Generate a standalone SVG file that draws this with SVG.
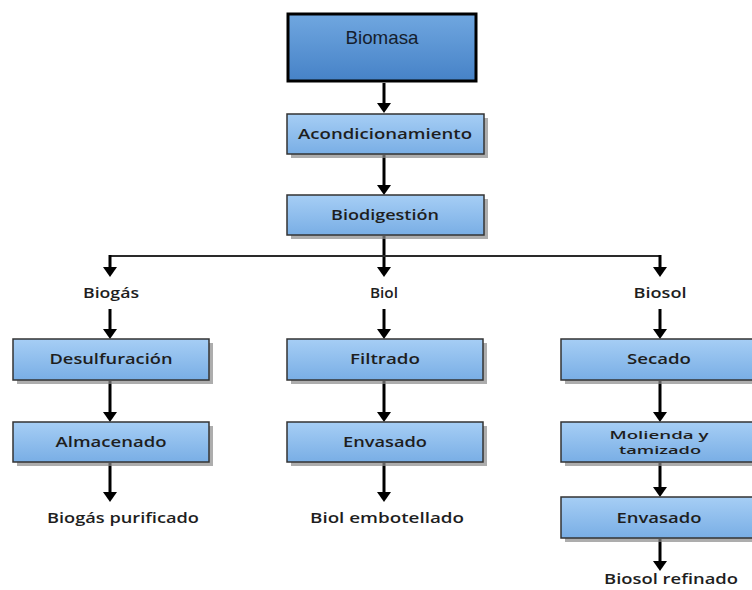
<svg xmlns="http://www.w3.org/2000/svg" width="752" height="590" viewBox="0 0 752 590">
<defs>
<linearGradient id="gBox" x1="0" y1="0" x2="0" y2="1">
<stop offset="0" stop-color="#a6cef5"/>
<stop offset="1" stop-color="#79aee5"/>
</linearGradient>
<linearGradient id="gTop" x1="0" y1="0" x2="0" y2="1">
<stop offset="0" stop-color="#70a7e0"/>
<stop offset="1" stop-color="#4682c7"/>
</linearGradient>
<marker id="ah" markerUnits="userSpaceOnUse" viewBox="0 0 10 14" refX="4" refY="7" markerWidth="10" markerHeight="14" orient="auto">
<path d="M0,0 L10,7 L0,14 z" fill="#000"/>
</marker>
</defs>
<style>
.box{fill:url(#gBox);stroke:#333;stroke-width:1.5}
.sh{fill:#8a8a8a;opacity:0.7}
.t{font-family:"Open Sans","DejaVu Sans",sans-serif;font-weight:600;font-size:13.5px;fill:#1e1e1e;text-anchor:middle}
.s{font-size:11.5px}
.c{fill:none;stroke:#000;stroke-width:3;marker-end:url(#ah)}
.h{fill:none;stroke:#2a2a2a;stroke-width:2}
</style>
<rect width="752" height="590" fill="#fff"/>

<g id="connectors">
<path class="c" d="M384,83 V107"/>
<path class="c" d="M384,155 V189"/>
<path class="c" d="M384,236 V271"/>
<path class="h" d="M110,256 H660"/>
<path class="c" d="M110,255 V271"/>
<path class="c" d="M660,255 V271"/>
<path class="c" d="M110,309 V333"/>
<path class="c" d="M384,309 V333"/>
<path class="c" d="M660,309 V333"/>
<path class="c" d="M110,381 V416"/>
<path class="c" d="M384,381 V416"/>
<path class="c" d="M660,381 V416"/>
<path class="c" d="M110,463 V496"/>
<path class="c" d="M384,463 V496"/>
<path class="c" d="M660,463 V491"/>
<path class="c" d="M660,539 V565"/>
</g>

<g id="biomasa">
<rect x="288" y="14" width="188" height="67" fill="url(#gTop)" stroke="#000" stroke-width="3"/>
<text x="382" y="44" font-family="Liberation Sans, Arial, sans-serif" font-size="19" fill="#15202e" text-anchor="middle" textLength="73" lengthAdjust="spacingAndGlyphs">Biomasa</text>
</g>

<g id="acondicionamiento">
<rect class="sh" x="291" y="118" width="197" height="40"/>
<rect class="box" x="287" y="114" width="197" height="40"/>
<text class="t" x="385" y="139" textLength="174" lengthAdjust="spacingAndGlyphs">Acondicionamiento</text>
</g>

<g id="biodigestion">
<rect class="sh" x="291" y="199" width="197" height="40"/>
<rect class="box" x="287" y="195" width="197" height="40"/>
<text class="t" x="385" y="220" textLength="108" lengthAdjust="spacingAndGlyphs">Biodigestión</text>
</g>

<g id="biogas">
<text class="t" x="111" y="298" textLength="56" lengthAdjust="spacingAndGlyphs">Biogás</text>
</g>
<g id="biol">
<text class="t" x="384" y="298" textLength="28" lengthAdjust="spacingAndGlyphs">Biol</text>
</g>
<g id="biosol">
<text class="t" x="660" y="298" textLength="53" lengthAdjust="spacingAndGlyphs">Biosol</text>
</g>

<g id="desulfuracion">
<rect class="sh" x="17" y="343" width="196" height="41"/>
<rect class="box" x="13" y="339" width="196" height="41"/>
<text class="t" x="111" y="364" textLength="123" lengthAdjust="spacingAndGlyphs">Desulfuración</text>
</g>

<g id="almacenado">
<rect class="sh" x="17" y="426" width="196" height="40"/>
<rect class="box" x="13" y="422" width="196" height="40"/>
<text class="t" x="111" y="447" textLength="111" lengthAdjust="spacingAndGlyphs">Almacenado</text>
</g>

<g id="biogas-purificado">
<text class="t" x="123" y="523" textLength="152" lengthAdjust="spacingAndGlyphs">Biogás purificado</text>
</g>

<g id="filtrado">
<rect class="sh" x="291" y="343" width="196" height="41"/>
<rect class="box" x="287" y="339" width="196" height="41"/>
<text class="t" x="385" y="364" textLength="70" lengthAdjust="spacingAndGlyphs">Filtrado</text>
</g>

<g id="envasado-biol">
<rect class="sh" x="291" y="426" width="196" height="40"/>
<rect class="box" x="287" y="422" width="196" height="40"/>
<text class="t" x="385" y="447" textLength="84" lengthAdjust="spacingAndGlyphs">Envasado</text>
</g>

<g id="biol-embotellado">
<text class="t" x="387" y="523" textLength="154" lengthAdjust="spacingAndGlyphs">Biol embotellado</text>
</g>

<g id="secado">
<rect class="sh" x="565" y="343" width="197" height="41"/>
<rect class="box" x="561" y="339" width="197" height="41"/>
<text class="t" x="659" y="364" textLength="64" lengthAdjust="spacingAndGlyphs">Secado</text>
</g>

<g id="molienda">
<rect class="sh" x="565" y="426" width="197" height="40"/>
<rect class="box" x="561" y="422" width="197" height="40"/>
<text class="t s" x="659" y="439" textLength="99" lengthAdjust="spacingAndGlyphs">Molienda y</text>
<text class="t s" x="660" y="454" textLength="82" lengthAdjust="spacingAndGlyphs">tamizado</text>
</g>

<g id="envasado-biosol">
<rect class="sh" x="565" y="501" width="197" height="41"/>
<rect class="box" x="561" y="497" width="197" height="41"/>
<text class="t" x="659" y="523" textLength="85" lengthAdjust="spacingAndGlyphs">Envasado</text>
</g>

<g id="biosol-refinado">
<text class="t" x="671" y="584" textLength="134" lengthAdjust="spacingAndGlyphs">Biosol refinado</text>
</g>
</svg>
